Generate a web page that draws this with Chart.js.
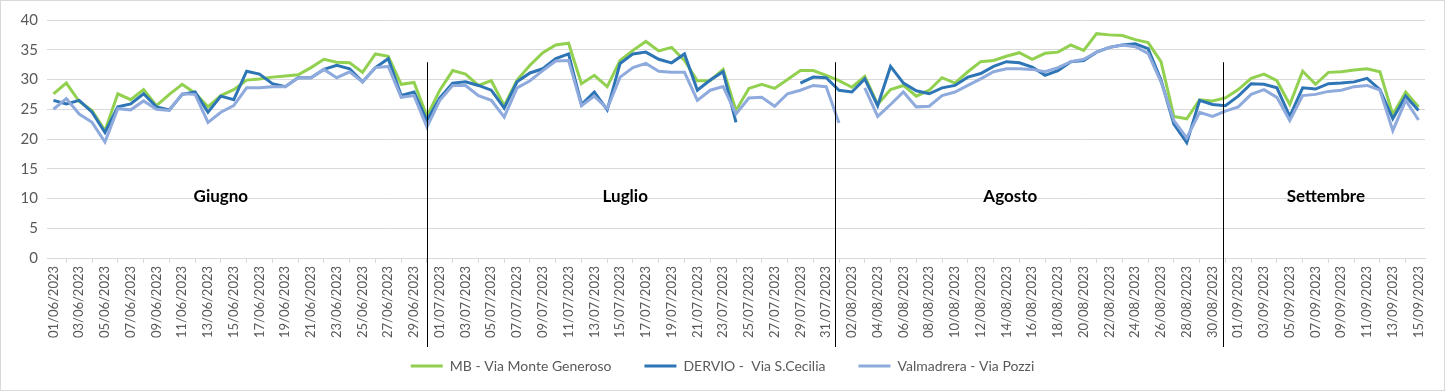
<!DOCTYPE html>
<html>
<head>
<meta charset="utf-8">
<script src="https://cdn.jsdelivr.net/npm/chart.js@4.4.0/dist/chart.umd.min.js"></script>
<style>
  html, body { margin: 0; padding: 0; background: #fff; }
  #wrap { width: 1445px; height: 391px; }
</style>
</head>
<body>
<div id="wrap"><canvas id="ozoneChart"></canvas></div>
<script>
// daily categories 01/06/2023 .. 15/09/2023
const firstDay = new Date(2023, 5, 1);
const dayCount = 107;
const days = [];
for (let i = 0; i < dayCount; i++) {
  const d = new Date(firstDay.getFullYear(), firstDay.getMonth(), firstDay.getDate() + i);
  const dd = String(d.getDate()).padStart(2, '0');
  const mm = String(d.getMonth() + 1).padStart(2, '0');
  days.push(dd + '/' + mm + '/' + d.getFullYear());
}

const mbMonteGeneroso = [
  27.6, 29.4, 26.3, 24.8, 21.4, 27.6, 26.6, 28.3, 25.6, 27.5, 29.2, 27.7, 25.4, 27.3, 28.3,
  29.9, 30.1, 30.4, 30.6, 30.8, 32.0, 33.4, 32.9, 32.8, 31.2, 34.3, 33.9, 29.2, 29.5, 23.8,
  28.2, 31.5, 30.9, 29.0, 29.8, 25.6, 29.9, 32.4, 34.5, 35.8, 36.1, 29.3, 30.7, 28.8, 33.2,
  34.9, 36.4, 34.8, 35.4, 33.2, 29.8, 29.8, 31.7, 24.8, 28.5, 29.2, 28.5, 30.0, 31.5, 31.5,
  30.7, 29.8, 28.7, 30.5, 25.8, 28.3, 29.0, 27.2, 28.2, 30.3, 29.4, 31.3, 33.0, 33.2, 33.9,
  34.5, 33.4, 34.4, 34.6, 35.8, 34.9, 37.7, 37.5, 37.4, 36.7, 36.2, 33.0, 23.8, 23.4, 26.6,
  26.4, 26.9, 28.3, 30.2, 30.9, 29.8, 25.8, 31.4, 29.2, 31.2, 31.3, 31.6, 31.8, 31.3, 24.1,
  27.9, 25.4
];
const dervioCecilia = [
  26.5, 25.9, 26.5, 24.5, 21.1, 25.4, 25.9, 27.6, 25.4, 24.9, 27.5, 27.9, 24.5, 27.2, 26.6,
  31.4, 30.9, 29.3, 28.8, 30.3, 30.3, 31.7, 32.4, 31.8, 29.6, 32.0, 33.5, 27.3, 27.9, 23.1,
  26.9, 29.4, 29.6, 29.0, 28.2, 25.2, 29.6, 31.1, 31.8, 33.5, 34.3, 25.8, 27.9, 24.9, 32.7,
  34.3, 34.6, 33.4, 32.8, 34.3, 28.2, 29.9, 31.3, 22.8, null, null, null, null, 29.4, 30.4,
  30.3, 28.2, 27.9, 30.1, 25.6, 32.2, 29.4, 28.1, 27.6, 28.6, 29.0, 30.4, 31.0, 32.2, 33.0,
  32.8, 32.1, 30.7, 31.5, 33.0, 33.2, 34.6, 35.4, 35.8, 36.0, 35.2, 29.9, 22.5, 19.4, 26.5,
  25.8, 25.6, 27.2, 29.3, 29.2, 28.6, 23.8, 28.6, 28.4, 29.3, 29.4, 29.6, 30.2, 28.3, 23.4,
  27.2, 24.8
];
const valmadreraPozzi = [
  25.0, 26.8, 24.2, 22.8, 19.5, 25.1, 24.9, 26.4, 25.0, 24.8, 27.6, 27.5, 22.8, 24.5, 25.6,
  28.6, 28.6, 28.8, 28.8, 30.3, 30.3, 31.7, 30.3, 31.3, 29.6, 32.0, 32.2, 27.0, 27.3, 22.0,
  26.5, 29.0, 29.0, 27.3, 26.5, 23.7, 28.6, 29.8, 31.5, 33.1, 33.2, 25.6, 27.2, 25.1, 30.4,
  32.0, 32.7, 31.4, 31.2, 31.2, 26.5, 28.2, 28.8, 24.2, 26.9, 27.0, 25.5, 27.6, 28.2, 29.0,
  28.8, 22.7, null, 28.6, 23.8, 25.8, 27.9, 25.4, 25.5, 27.3, 27.9, 29.0, 30.1, 31.3, 31.8,
  31.8, 31.7, 31.3, 32.0, 33.0, 33.4, 34.6, 35.4, 35.8, 35.5, 34.4, 29.6, 23.1, 20.2, 24.5,
  23.8, 24.7, 25.4, 27.5, 28.3, 27.0, 23.1, 27.3, 27.5, 28.0, 28.2, 28.8, 29.0, 28.2, 21.4,
  26.5, 23.2
];

const yTicks = [0, 5, 10, 15, 20, 25, 30, 35, 40];
const monthNames = ['Giugno', 'Luglio', 'Agosto', 'Settembre'];

// hand-drawn month dividers and labels (category index / y value)
const dividerAt = [29, 60.7, 90.8];
const dividerTop = 32.9;
const monthLabelAt = [13, 44.4, 74.3, 98.8];
const monthLabelY = 10.3;

const txt = '#595959';
const gridCol = '#d9d9d9';
const fontFam = 'Lato, "Open Sans", sans-serif';

const monthMarks = {
  id: 'monthMarks',
  afterLayout(chart) {
    // the date labels run a little into the legend band: don't clip them
    chart.scales.x.bottom += 20;
  },
  beforeDraw(chart) {
    const ctx = chart.ctx;
    ctx.save();
    ctx.fillStyle = '#fff';
    ctx.fillRect(0, 0, chart.width, chart.height);
    ctx.restore();
  },
  afterDraw(chart) {
    const { ctx, scales: { x, y } } = chart;
    ctx.save();
    ctx.strokeStyle = '#000';
    ctx.lineWidth = 1;
    dividerAt.forEach(v => {
      const px = Math.round(x.getPixelForValue(v)) + 0.5;
      ctx.beginPath();
      ctx.moveTo(px, y.getPixelForValue(dividerTop));
      ctx.lineTo(px, y.getPixelForValue(0) + 89);
      ctx.stroke();
    });
    ctx.fillStyle = '#000';
    ctx.font = 'bold 17px ' + fontFam;
    ctx.textAlign = 'center';
    ctx.textBaseline = 'middle';
    monthNames.forEach((m, i) => {
      ctx.fillText(m, x.getPixelForValue(monthLabelAt[i]), y.getPixelForValue(monthLabelY));
    });
    ctx.strokeStyle = gridCol;
    ctx.strokeRect(0.5, 0.5, chart.width - 1, chart.height - 1);
    ctx.restore();
  }
};

const ctx = document.getElementById('ozoneChart').getContext('2d');
new Chart(ctx, {
  type: 'line',
  data: {
    labels: days,
    datasets: [
      { label: 'MB - Via Monte Generoso', data: mbMonteGeneroso, borderColor: '#92d050', backgroundColor: '#92d050', order: 3 },
      { label: 'DERVIO -  Via S.Cecilia', data: dervioCecilia, borderColor: '#2e75b6', backgroundColor: '#2e75b6', order: 2 },
      { label: 'Valmadrera - Via Pozzi', data: valmadreraPozzi, borderColor: '#8faadc', backgroundColor: '#8faadc', order: 1 }
    ]
  },
  options: {
    responsive: true,
    maintainAspectRatio: false,
    animation: false,
    layout: { padding: { top: 20, right: 20, left: 20, bottom: 8 } },
    elements: {
      line: { borderWidth: 3, tension: 0 },
      point: { radius: 0, hoverRadius: 0 }
    },
    scales: {
      x: {
        offset: true,
        grid: { offset: true, drawOnChartArea: false, drawTicks: true, tickLength: 5, color: gridCol },
        border: { color: gridCol },
        ticks: {
          autoSkip: false,
          minRotation: 90,
          maxRotation: 90,
          padding: 3,
          color: txt,
          font: { family: fontFam, size: 13 },
          callback: function(val, i) { return i % 2 === 0 ? days[i] : null; }
        },
        afterFit: function(scale) { scale.height = 68; }
      },
      y: {
        min: 0,
        max: 40,
        afterBuildTicks: function(scale) { scale.ticks = yTicks.map(v => ({ value: v })); },
        grid: { color: gridCol, drawTicks: false },
        border: { display: false },
        ticks: { padding: 9, color: txt, font: { family: fontFam, size: 15 } },
        afterFit: function(scale) { scale.width = 27; }
      }
    },
    plugins: {
      tooltip: { enabled: false },
      legend: {
        position: 'bottom',
        reverse: true,
        labels: {
          boxWidth: 32,
          boxHeight: 3,
          padding: 33,
          color: txt,
          font: { family: fontFam, size: 14 },
          generateLabels: function(chart) {
            const items = Chart.defaults.plugins.legend.labels.generateLabels(chart);
            items.forEach(it => { it.lineWidth = 0; it.fillStyle = it.strokeStyle; });
            return items;
          }
        }
      }
    }
  },
  plugins: [monthMarks]
});
</script>
</body>
</html>
